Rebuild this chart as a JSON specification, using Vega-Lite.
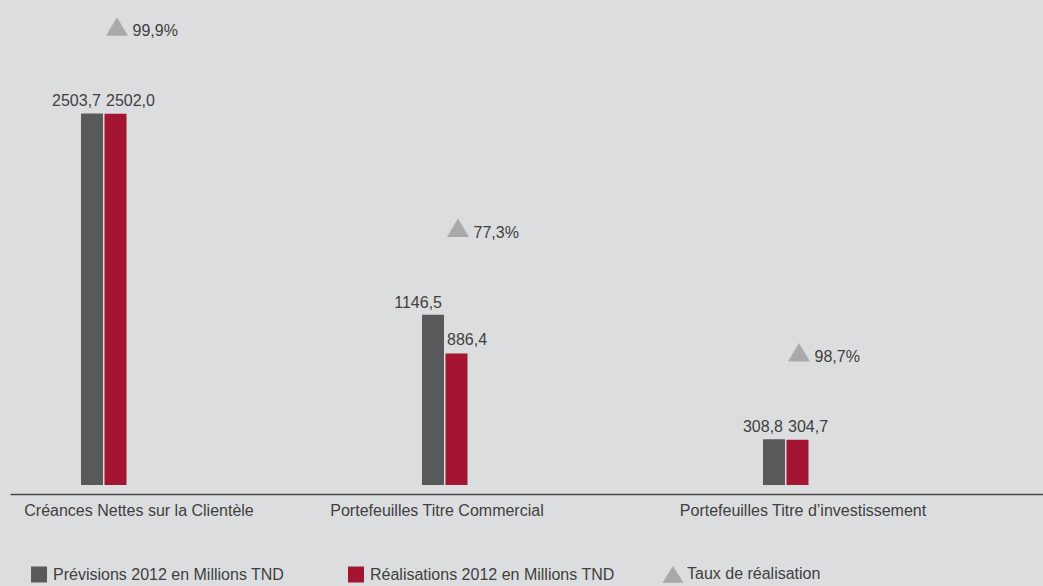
{
  "$schema": "https://vega.github.io/schema/vega-lite/v6.json",
  "width": 1033,
  "height": 494,
  "autosize": {"type": "none"},
  "padding": {"left": 10, "top": 0, "right": 0, "bottom": 92},
  "background": "#dcdddf",
  "config": {
    "view": {"stroke": null},
    "font": "Liberation Sans",
    "locale": {"number": {"decimal": ",", "thousands": " ", "grouping": [3], "currency": ["", ""]}}
  },
  "data": {
    "values": [
      {"categorie": "Créances Nettes sur la Clientèle", "Prévisions 2012 en Millions TND": 2503.7, "Réalisations 2012 en Millions TND": 2502.0, "taux": 0.999},
      {"categorie": "Portefeuilles Titre Commercial", "Prévisions 2012 en Millions TND": 1146.5, "Réalisations 2012 en Millions TND": 886.4, "taux": 0.773},
      {"categorie": "Portefeuilles Titre d’investissement", "Prévisions 2012 en Millions TND": 308.8, "Réalisations 2012 en Millions TND": 304.7, "taux": 0.987}
    ]
  },
  "encoding": {
    "x": {
      "field": "categorie",
      "type": "nominal",
      "sort": null,
      "scale": {"paddingInner": 0, "paddingOuter": 0.0147},
      "axis": {
        "title": null,
        "ticks": false,
        "grid": false,
        "domainColor": "#4a4a4a",
        "domainWidth": 1.5,
        "labelAngle": 0,
        "labelFontSize": 16,
        "labelColor": "#404040",
        "labelBaseline": "alphabetic",
        "labelPadding": 21,
        "labelLimit": 400,
        "labelOffset": {
          "condition": [
            {"test": "datum.value === 'Créances Nettes sur la Clientèle'", "value": -46.5},
            {"test": "datum.value === 'Portefeuilles Titre Commercial'", "value": -89.5}
          ],
          "value": -64.5
        }
      }
    }
  },
  "layer": [
    {
      "transform": [{"fold": ["Prévisions 2012 en Millions TND", "Réalisations 2012 en Millions TND"], "as": ["serie", "valeur"]}],
      "mark": {"type": "bar"},
      "encoding": {
        "xOffset": {"field": "serie", "type": "nominal", "scale": {"range": [66, 111.5], "paddingInner": 0.064, "paddingOuter": 0}},
        "y": {"field": "valeur", "type": "quantitative", "stack": null, "scale": {"domain": [-60.6, 3268], "nice": false, "zero": false}, "axis": null},
        "color": {
          "field": "serie",
          "type": "nominal",
          "scale": {
            "domain": ["Prévisions 2012 en Millions TND", "Réalisations 2012 en Millions TND", "Taux de réalisation"],
            "range": ["#58595b", "#a31530", "#a8a9ab"]
          },
          "legend": {
            "title": null,
            "orient": "none",
            "legendX": 21,
            "legendY": 566,
            "direction": "horizontal",
            "columns": 3,
            "gridAlign": "all",
            "columnPadding": 47,
            "padding": 0,
            "labelFontSize": 16,
            "labelColor": "#404040",
            "labelLimit": 400,
            "labelOffset": 6,
            "symbolType": "square",
            "symbolSize": 256,
            "symbolStrokeWidth": 0,
            "symbolOpacity": 1,
            "encode": {
              "symbols": {
                "update": {
                  "shape": {"signal": "datum.value === 'Taux de réalisation' ? 'M-1,0.8L1,0.8L0,-0.8Z' : 'square'"},
                  "size": {"signal": "datum.value === 'Taux de réalisation' ? 441 : 256"}
                }
              }
            }
          }
        }
      }
    },
    {
      "mark": {"type": "text", "align": "right", "baseline": "alphabetic", "dx": -84.5, "dy": -7, "fontSize": 16, "color": "#404040"},
      "encoding": {
        "y": {"field": "Prévisions 2012 en Millions TND", "type": "quantitative"},
        "text": {"field": "Prévisions 2012 en Millions TND", "type": "quantitative", "format": ".1f"}
      }
    },
    {
      "mark": {"type": "text", "align": "left", "baseline": "alphabetic", "dx": -79.5, "dy": -8, "fontSize": 16, "color": "#404040"},
      "encoding": {
        "y": {"field": "Réalisations 2012 en Millions TND", "type": "quantitative"},
        "text": {"field": "Réalisations 2012 en Millions TND", "type": "quantitative", "format": ".1f"}
      }
    },
    {
      "mark": {"type": "point", "shape": "M-1,0.84L1,0.84L0,-0.84Z", "filled": true, "size": 484, "opacity": 1, "color": "#a8a9ab", "strokeWidth": 0, "xOffset": -68.5, "yOffset": -87},
      "encoding": {
        "y": {"field": "Prévisions 2012 en Millions TND", "type": "quantitative"}
      }
    },
    {
      "mark": {"type": "text", "align": "left", "baseline": "alphabetic", "dx": -53, "dy": -77, "fontSize": 16, "color": "#404040"},
      "encoding": {
        "y": {"field": "Prévisions 2012 en Millions TND", "type": "quantitative"},
        "text": {"field": "taux", "type": "quantitative", "format": ".1%"}
      }
    }
  ]
}
